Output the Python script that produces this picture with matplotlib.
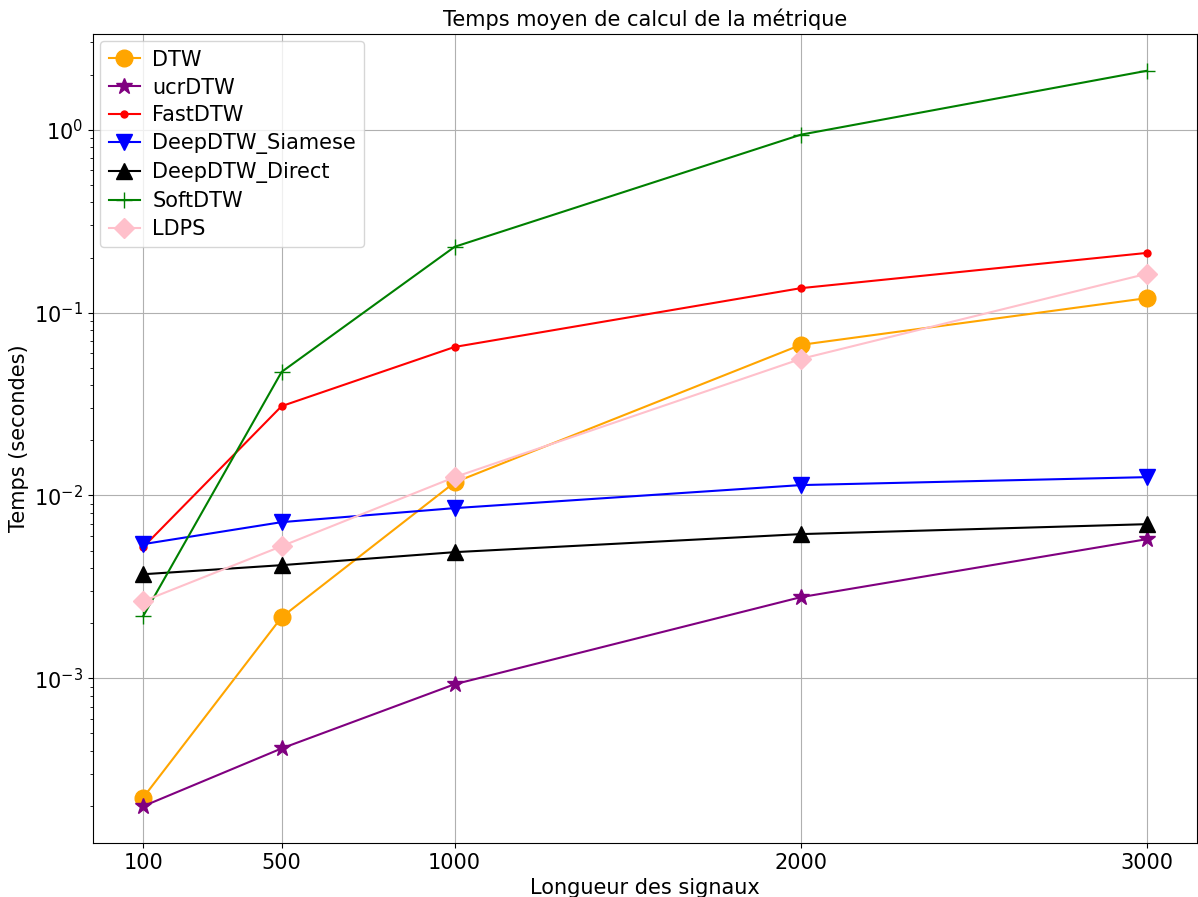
import matplotlib.pyplot as plt

lengths = [100, 500, 1000, 2000, 3000]

dtw = [2.23e-4, 2.16e-3, 0.0118, 0.0666, 0.120]
ucr_dtw = [2.0e-4, 4.14e-4, 9.29e-4, 2.78e-3, 5.77e-3]
fast_dtw = [5.22e-3, 0.0308, 0.0649, 0.136, 0.212]
deep_siamese = [5.42e-3, 7.15e-3, 8.53e-3, 0.0114, 0.0126]
deep_direct = [3.71e-3, 4.16e-3, 4.90e-3, 6.15e-3, 6.97e-3]
soft_dtw = [2.19e-3, 0.0474, 0.229, 0.939, 2.10]
ldps = [2.64e-3, 5.28e-3, 0.0126, 0.0558, 0.163]

series = [
    ("DTW", dtw, "orange", "o", 12),
    ("ucrDTW", ucr_dtw, "purple", "*", 12),
    ("FastDTW", fast_dtw, "red", ".", 10),
    ("DeepDTW_Siamese", deep_siamese, "blue", "v", 12),
    ("DeepDTW_Direct", deep_direct, "black", "^", 12),
    ("SoftDTW", soft_dtw, "green", "+", 12),
    ("LDPS", ldps, "pink", "D", 10),
]

fs = 15

fig, ax = plt.subplots(figsize=(11.98, 8.97), dpi=100)
fig.subplots_adjust(left=93 / 1198, right=1197 / 1198, top=1 - 34 / 897, bottom=1 - 843 / 897)

for label, values, color, marker, ms in series:
    ax.plot(lengths, values, label=label, color=color, marker=marker, markersize=ms)

ax.set_yscale("log")
ax.set_xticks(lengths)
ax.tick_params(labelsize=fs)
ax.grid(True)

ax.set_title("Temps moyen de calcul de la métrique", fontsize=fs)
ax.set_xlabel("Longueur des signaux", fontsize=fs)
ax.set_ylabel("Temps (secondes)", fontsize=fs)

# compact legend in the upper-left corner
ax.legend(
    loc="upper left",
    fontsize=fs,
    handlelength=1.5,
    labelspacing=0.38,
    borderaxespad=0.35,
    handletextpad=0.6,
)

plt.savefig("out.png")
plt.close(fig)
